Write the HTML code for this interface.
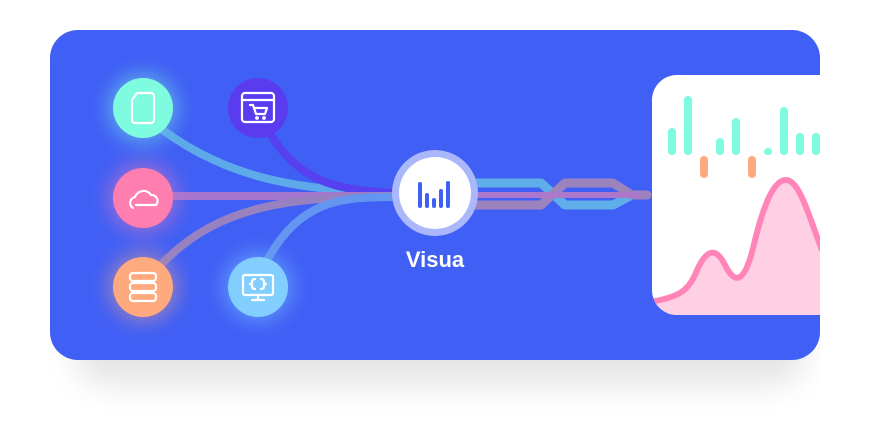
<!DOCTYPE html>
<html><head><style>
html,body{margin:0;padding:0;background:#fff;width:870px;height:430px;overflow:hidden}
</style></head><body>
<svg width="870" height="430" viewBox="0 0 870 430" xmlns="http://www.w3.org/2000/svg">
<defs>
<filter id="sh" x="-20%" y="-20%" width="140%" height="160%"><feGaussianBlur stdDeviation="16"/></filter>
<filter id="gl" x="-100%" y="-100%" width="300%" height="300%"><feGaussianBlur stdDeviation="10"/></filter>
<clipPath id="cp"><rect x="50" y="30" width="770" height="330" rx="28"/></clipPath>
<clipPath id="pp"><path d="M652 100 a25 25 0 0 1 25 -25 H830 V315 H677 a25 25 0 0 1 -25 -25 Z"/></clipPath>
</defs>
<rect x="75" y="65" width="730" height="320" rx="30" fill="#000" opacity="0.1" filter="url(#sh)"/>
<rect x="50" y="30" width="770" height="330" rx="28" fill="#405FF5"/>
<g clip-path="url(#cp)">
<g filter="url(#gl)" opacity="0.5">
<circle cx="143" cy="108" r="34" fill="#7FFBE0"/>
<circle cx="143" cy="198" r="34" fill="#FF7EB0"/>
<circle cx="143" cy="287" r="34" fill="#FFA97E"/>
<circle cx="258" cy="287" r="34" fill="#82CFFF"/>
</g>
<g fill="none" stroke-width="8" stroke-linecap="round" opacity="0.85">
<path d="M160 128 C230 180 300 190 395 193" stroke="#63B7E8"/>
<path d="M268 130 C300 185 340 190 395 193" stroke="#5A3BF0"/>
<path d="M170 196 L395 196" stroke="#B77BC8"/>
<path d="M158 268 C220 200 300 198 395 196" stroke="#A888B8"/>
<path d="M266 262 C300 200 340 197 395 197" stroke="#6AA0F0"/>
</g>
<g fill="none" stroke-width="9" stroke-linejoin="round" opacity="0.9">
<path d="M470 183 L541 183 L565 205 L613 205 L632 195" stroke="#63B7E8"/>
<path d="M470 205 L541 205 L565 183 L613 183 L632 195 L647 195" stroke="#A888B8" stroke-linecap="round"/>
<path d="M470 195 L640 195" stroke="#B77BC8" stroke-width="6"/>
</g>
<path d="M652 100 a25 25 0 0 1 25 -25 H830 V315 H677 a25 25 0 0 1 -25 -25 Z" fill="#fff"/>
<g fill="#7FFBE0">
<rect x="668" y="128" width="8" height="27" rx="4"/>
<rect x="684" y="96" width="8" height="59" rx="4"/>
<rect x="716" y="138" width="8" height="17" rx="4"/>
<rect x="732" y="118" width="8" height="37" rx="4"/>
<rect x="764" y="148" width="8" height="7" rx="3.5"/>
<rect x="780" y="107" width="8" height="48" rx="4"/>
<rect x="796" y="133" width="8" height="22" rx="4"/>
<rect x="812" y="133" width="8" height="22" rx="4"/>
</g>
<rect x="700" y="156" width="8" height="22" rx="4" fill="#FFA97E"/>
<rect x="748" y="156" width="8" height="22" rx="4" fill="#FFA97E"/>
<g clip-path="url(#pp)">
<path d="M650 302 C680 297 688 290 695 275 C705 250 715 245 725 265 C735 285 745 285 755 240 C765 200 775 180 786 180 C800 180 810 220 822 250 L822 320 L650 320 Z" fill="#FFD0E4"/>
<path d="M650 302 C680 297 688 290 695 275 C705 250 715 245 725 265 C735 285 745 285 755 240 C765 200 775 180 786 180 C800 180 810 220 822 250" fill="none" stroke="#FF85B8" stroke-width="6"/>
</g>
</g>
<rect x="820" y="30" width="50" height="400" fill="#fff"/>
<circle cx="143" cy="108" r="30" fill="#7FFBE0"/>
<circle cx="258" cy="108" r="30" fill="#5A3BF0"/>
<circle cx="143" cy="198" r="30" fill="#FF7EB0"/>
<circle cx="143" cy="287" r="30" fill="#FFA97E"/>
<circle cx="258" cy="287" r="30" fill="#82CFFF"/>
<g fill="none" stroke="#fff" stroke-width="2.2" stroke-linecap="round" stroke-linejoin="round">
<path d="M137 93 H151 a3 3 0 0 1 3 3 V120 a3 3 0 0 1 -3 3 H135 a3 3 0 0 1 -3 -3 V100 Z"/>
<rect x="242" y="93" width="32" height="29" rx="3"/><path d="M242 100 H274"/><path d="M250 105 h3 l3 9 h9 l2 -6 h-13"/><circle cx="257" cy="118" r="0.8"/><circle cx="264" cy="118" r="0.8"/>
<path d="M133 208 a6 6 0 0 1 2 -11 a9 9 0 0 1 16 -2 a6 6 0 0 1 5 10 H136"/>
<rect x="130" y="273" width="26" height="8" rx="3"/><rect x="130" y="283" width="26" height="8" rx="3"/><rect x="130" y="293" width="26" height="8" rx="3"/>
<rect x="243" y="275" width="30" height="20" rx="2"/><path d="M258 295 v5 M252 300 h12"/><path d="M255 279 q-3 0 -3 3 v1 l-2 1 l2 1 v1 q0 3 3 3 M261 279 q3 0 3 3 v1 l2 1 l-2 1 v1 q0 3 -3 3"/>
</g>
<circle cx="435" cy="193" r="43" fill="#AAB8FB"/>
<circle cx="435" cy="193" r="36" fill="#fff"/>
<g stroke="#405FF5" stroke-width="4" stroke-linecap="round">
<path d="M420 184 V206 M427 195 V206 M434 200 V206 M441 191 V206 M448 183 V206"/>
</g>
<text x="435" y="267" text-anchor="middle" fill="#fff" font-family="Liberation Sans, sans-serif" font-weight="bold" font-size="22">Visua</text>
</svg>
</body></html>
